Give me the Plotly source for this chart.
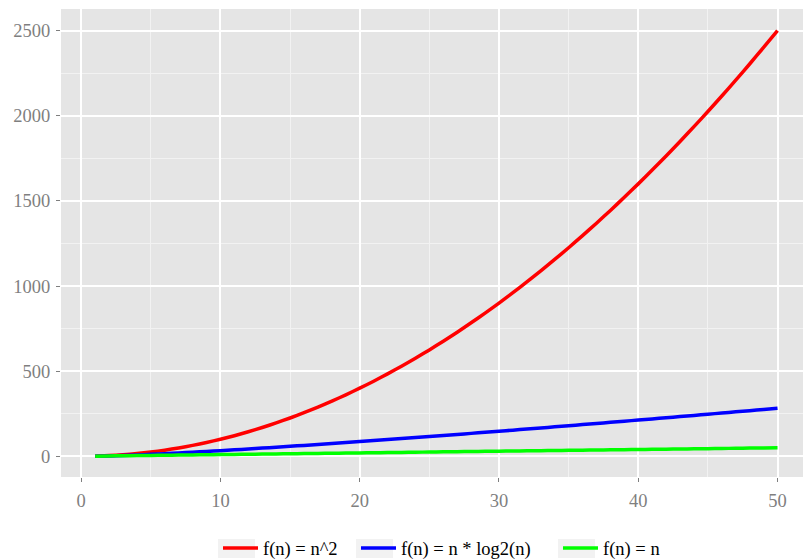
import plotly.graph_objects as go

n_values = list(range(1, 51))
n_squared = [1, 4, 9, 16, 25, 36, 49, 64, 81, 100,
             121, 144, 169, 196, 225, 256, 289, 324, 361, 400,
             441, 484, 529, 576, 625, 676, 729, 784, 841, 900,
             961, 1024, 1089, 1156, 1225, 1296, 1369, 1444, 1521, 1600,
             1681, 1764, 1849, 1936, 2025, 2116, 2209, 2304, 2401, 2500]
n_log2_n = [0, 2, 4.75, 8, 11.61, 15.51, 19.65, 24, 28.53, 33.22,
            38.05, 43.02, 48.11, 53.30, 58.60, 64, 69.49, 75.06, 80.71, 86.44,
            92.24, 98.11, 104.04, 110.04, 116.10, 122.21, 128.38, 134.61, 140.88, 147.21,
            153.58, 160, 166.46, 172.97, 179.53, 186.12, 192.75, 199.42, 206.13, 212.88,
            219.66, 226.48, 233.33, 240.21, 247.13, 254.08, 261.07, 268.08, 275.12, 282.19]
n_linear = list(range(1, 51))

series_names = ["f(n) = n^2", "f(n) = n * log2(n)", "f(n) = n"]
series_colors = ["#FF0000", "#0000FF", "#00FF00"]
x_ticks = [0, 10, 20, 30, 40, 50]
y_ticks = [0, 500, 1000, 1500, 2000, 2500]

FONT = "Liberation Serif"
W, H = 803, 560
ML, MR, MT, MB = 61, 0, 9, 83
PW, PH = W - ML - MR, H - MT - MB


def px_x(p):
    return (p - ML) / PW


def px_y(p):
    return (H - MB - p) / PH


fig = go.Figure()
legend_ids = ["legend", "legend2", "legend3"]
for name, ys, col, lid in zip(series_names, [n_squared, n_log2_n, n_linear], series_colors, legend_ids):
    fig.add_trace(go.Scatter(x=n_values, y=ys, mode="lines", name=name, legend=lid,
                             line=dict(color=col, width=3.5, shape="spline", smoothing=0.6)))

axis_common = dict(
    showgrid=True, gridcolor="#FFFFFF", gridwidth=1.6,
    minor=dict(showgrid=True, gridcolor="#F2F2F2", gridwidth=0.9),
    zeroline=False, showline=False,
    ticks="outside", ticklen=4, tickcolor="#7F7F7F", tickwidth=1,
    tickfont=dict(family=FONT, size=18.5, color="#7F7F7F"),
)

key_left = [218, 356, 558]
legend_y = px_y(548.5)


def leg(xpx):
    return dict(orientation="h", x=px_x(xpx), xanchor="left", y=legend_y, yanchor="middle",
                font=dict(family=FONT, size=18.5, color="#000000"),
                bgcolor="rgba(0,0,0,0)", itemwidth=35, borderwidth=0)


fig.update_layout(
    width=W, height=H,
    margin=dict(l=ML, r=MR, t=MT, b=MB, autoexpand=False),
    paper_bgcolor="#FFFFFF", plot_bgcolor="#E5E5E5",
    showlegend=True,
    legend=leg(key_left[0]), legend2=leg(key_left[1]), legend3=leg(key_left[2]),
    xaxis=dict(range=[-1.45, 51.83], tickvals=x_ticks, ticklabelstandoff=3, **axis_common),
    yaxis=dict(range=[-121.6, 2627], tickvals=y_ticks, ticklabelstandoff=2, **axis_common),
)
fig.update_xaxes(minor=dict(tickvals=[5, 15, 25, 35, 45], ticks=""))
fig.update_yaxes(minor=dict(tickvals=[250, 750, 1250, 1750, 2250], ticks=""))

# grey key backgrounds behind legend samples (ggplot style)
for kl in key_left:
    fig.add_shape(type="rect", xref="paper", yref="paper",
                  x0=px_x(kl), x1=px_x(kl + 37), y0=px_y(558), y1=px_y(539),
                  fillcolor="#F2F2F2", line=dict(width=0), layer="below")

fig.write_html("out.html", config={"displayModeBar": False},
               post_script="document.body.style.margin='0';")
